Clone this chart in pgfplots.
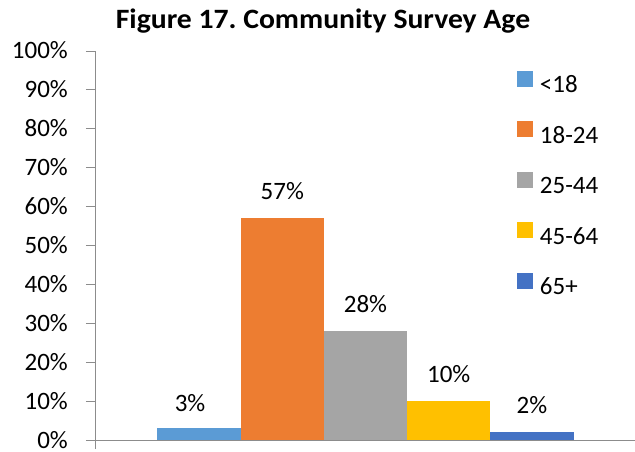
\documentclass[border=0pt]{standalone}
\usepackage{pgfplots}
\pgfplotsset{compat=1.18}
\usepackage{graphicx}
\usepackage{fontspec}
\setmainfont{Carlito}
\definecolor{c1}{HTML}{5B9BD5}
\definecolor{c2}{HTML}{ED7D31}
\definecolor{c3}{HTML}{A5A5A5}
\definecolor{c4}{HTML}{FFC000}
\definecolor{c5}{HTML}{4472C4}
\definecolor{axgray}{HTML}{8C8C8C}
\begin{document}
\begin{tikzpicture}
\useasboundingbox (-95bp,-12bp) rectangle (540bp,440bp);
\begin{axis}[
  scale only axis, width=541bp, height=389bp,
  at={(0,0)}, anchor=south west,
  xmin=-0.25, xmax=6.25, ymin=0, ymax=100,
  ybar, bar width=1, bar shift=0pt,
  axis x line*=bottom, axis y line*=left,
  /pgf/number format/assume math mode=true,
  font=\fontsize{25bp}{30bp}\selectfont,
  ytick={0,10,...,100},
  yticklabel={\pgfmathprintnumber{\tick}\%},
  yticklabel style={anchor=base east, inner sep=0pt, xshift=-18bp, yshift=-8bp},
  xtick={-0.25}, xticklabels={},
  tick align=outside, major tick length=9bp,
  axis line style={draw=axgray, line width=0.9bp},
  tick style={draw=axgray, line width=0.9bp},
  nodes near coords={\pgfmathprintnumber{\pgfplotspointmeta}\%},
  every node near coord/.append style={anchor=south, inner sep=0pt, yshift=18bp, text=black},
  legend style={draw=none, fill=none, at={(0.78,0.949)}, anchor=north west,
    inner sep=0pt, outer sep=0pt,
    nodes={inner sep=0pt, text height=16bp, text depth=4bp},
    column sep=7bp, row sep=24.5bp},
  legend cell align=left,
  legend image code/.code={\fill[#1] (0bp,0bp) rectangle (16bp,16bp);},
]
\addplot[fill=c1, draw=none, every node near coord/.append style={xshift=-9bp, yshift=-2bp}] coordinates {(1,3)};
\addlegendentry{<18}
\addplot[fill=c2, draw=none] coordinates {(2,57)};
\addlegendentry{18-24}
\addplot[fill=c3, draw=none] coordinates {(3,28)};
\addlegendentry{25-44}
\addplot[fill=c4, draw=none] coordinates {(4,10)};
\addlegendentry{45-64}
\addplot[fill=c5, draw=none] coordinates {(5,2)};
\addlegendentry{65+}
\end{axis}
\node[anchor=base, inner sep=0pt, font=\fontsize{28bp}{32bp}\selectfont\bfseries] at (228bp,411bp) {\scalebox{1.06}[1]{Figure 17.\ Community Survey Age}};
\end{tikzpicture}
\end{document}
